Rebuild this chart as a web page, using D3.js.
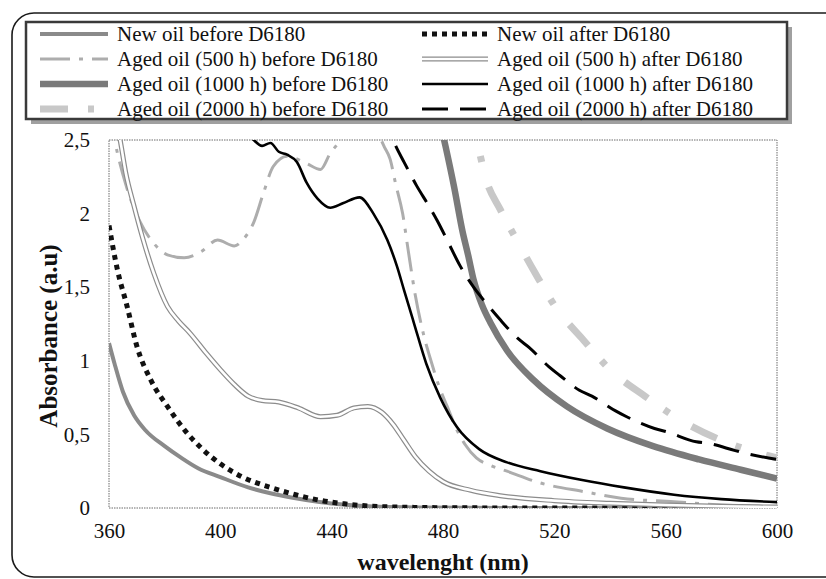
<!DOCTYPE html>
<html>
<head>
<meta charset="utf-8">
<script src="https://cdn.jsdelivr.net/npm/d3@7"></script>
<style>
  body { margin: 0; background: #fff; }
  svg { display: block; font-family: "Liberation Serif", "Times New Roman", serif; }
</style>
</head>
<body>
<script>
// wavelength (nm), absorbance (a.u)
var newOilBefore = [[360,1.12],[362,0.98],[365,0.79],[369,0.63],[373,0.53],[380,0.42],[386,0.34],[392,0.27],[400,0.21],[410,0.14],[418,0.10],[426,0.07],[435,0.043],[445,0.022],[455,0.01],[470,0.004],[490,0.001],[520,0],[600,0]];
var newOilAfter = [[360,1.92],[363,1.62],[366.5,1.37],[370,1.10],[375,0.87],[381,0.69],[388,0.51],[393,0.41],[400,0.30],[408,0.21],[418,0.14],[427,0.09],[435,0.055],[444,0.03],[452,0.015],[462,0.007],[475,0.003],[490,0.001],[520,0],[600,0]];
var aged500Before = [[360,2.7],[362,2.5],[366,2.2],[371,1.95],[376,1.8],[381,1.72],[387,1.70],[393,1.74],[399,1.82],[405,1.78],[408,1.82],[412,1.94],[415.5,2.14],[419,2.32],[424,2.39],[431,2.34],[436,2.30],[439.5,2.41],[442,2.47],[446,2.56],[452,2.6],[456,2.56],[459,2.45],[461,2.37],[463,2.2],[465.5,2.0],[467.5,1.75],[470,1.45],[473,1.18],[476,0.98],[478.5,0.83],[481.5,0.69],[485,0.53],[488,0.43],[492,0.34],[497,0.29],[503,0.25],[515,0.17],[531,0.11],[544,0.066],[563,0.043],[580,0.02],[600,0.007]];
var aged500After = [[360,2.8],[364,2.5],[366,2.28],[369,2.05],[372,1.84],[376,1.6],[381,1.37],[385,1.27],[389,1.19],[395,1.05],[400,0.94],[405,0.84],[410,0.76],[415,0.73],[421,0.72],[428,0.68],[436,0.62],[442,0.63],[448,0.68],[453,0.69],[458,0.65],[462,0.57],[466,0.46],[470,0.35],[475,0.25],[480,0.18],[490,0.12],[500,0.085],[520,0.05],[540,0.032],[560,0.02],[580,0.012],[600,0.006]];
var aged1000Before = [[478,2.7],[481,2.45],[484,2.18],[487,1.88],[489,1.72],[491,1.55],[494,1.38],[497,1.26],[503,1.07],[512.5,0.87],[524.5,0.69],[539,0.54],[555.5,0.42],[572,0.33],[587,0.26],[600,0.2]];
var aged1000After = [[405,2.7],[412,2.5],[415,2.46],[418,2.48],[421,2.42],[424,2.4],[427.5,2.35],[431,2.21],[435,2.1],[439.5,2.04],[444,2.07],[450,2.11],[455,2.0],[460,1.82],[463.5,1.64],[466,1.48],[469.5,1.26],[474,0.98],[479,0.75],[485,0.55],[493,0.4],[503,0.31],[515,0.25],[530,0.19],[545,0.14],[563,0.09],[580,0.06],[600,0.04]];
var aged2000Before = [[488,2.7],[492.5,2.46],[495.5,2.23],[500.5,2.03],[506.5,1.82],[513,1.6],[521,1.35],[530.5,1.14],[540,0.94],[552.5,0.76],[566,0.59],[580,0.46],[594,0.37],[600,0.34]];
var aged2000After = [[458,2.7],[463,2.46],[466,2.35],[470.5,2.19],[475,2.05],[478,1.95],[481.5,1.82],[486,1.65],[491,1.5],[496,1.38],[500.5,1.28],[507,1.15],[511,1.09],[518,0.96],[522,0.9],[529,0.8],[533.5,0.76],[542,0.66],[546,0.62],[556,0.54],[560,0.52],[571,0.45],[575,0.44],[585,0.39],[589,0.37],[600,0.33]];

var xTicks = [360, 400, 440, 480, 520, 560, 600];
var yTicks = [0, 0.5, 1, 1.5, 2, 2.5];

var seriesNames = ["New oil before D6180", "New oil after D6180",
  "Aged oil (500 h) before D6180", "Aged oil (500 h) after D6180",
  "Aged oil (1000 h) before D6180", "Aged oil (1000 h) after D6180",
  "Aged oil (2000 h) before D6180", "Aged oil (2000 h) after D6180"];
var seriesData = [newOilBefore, newOilAfter, aged500Before, aged500After,
  aged1000Before, aged1000After, aged2000Before, aged2000After];

// line looks, one per series (same order)
var looks = [
  { color: "#8a8a8a", width: 4 },
  { color: "#111", width: 5, dash: "5,5" },
  { color: "#adadad", width: 3, dash: "30,9,4,9" },
  { color: "#8c8c8c", width: 5, inner: 2.6 },
  { color: "#7a7a7a", width: 6.5 },
  { color: "#000", width: 2.6 },
  { color: "#c8c8c8", width: 7, dash: "28,20,6,26" },
  { color: "#000", width: 3, dash: "26,12" }
];

const w = 826, h = 579;
const plot = { left: 109, right: 777, top: 140, bottom: 508 };

var svg = d3.select("body").append("svg")
  .attr("width", w)
  .attr("height", h);

// outer rounded frame (runs off the right edge as in the scan)
svg.append("rect")
  .attr("x", 12).attr("y", 13)
  .attr("width", 840).attr("height", 564)
  .attr("rx", 22).attr("ry", 22)
  .attr("fill", "none")
  .attr("stroke", "#1a1a1a")
  .attr("stroke-width", 1.6);

var xScale = d3.scaleLinear().domain([360, 600]).range([plot.left, plot.right]);
var yScale = d3.scaleLinear().domain([0, 2.5]).range([plot.bottom, plot.top]);

svg.append("defs").append("clipPath")
  .attr("id", "clip")
  .append("rect")
  .attr("x", plot.left).attr("y", plot.top)
  .attr("width", plot.right - plot.left)
  .attr("height", plot.bottom - plot.top);

// plot border, thin dotted
svg.append("rect")
  .attr("x", plot.left).attr("y", plot.top)
  .attr("width", plot.right - plot.left)
  .attr("height", plot.bottom - plot.top)
  .attr("fill", "none")
  .attr("stroke", "#6a6a6a")
  .attr("stroke-width", 1)
  .attr("stroke-dasharray", "1.5,1");

var xAxis = d3.axisBottom(xScale).tickValues(xTicks).tickSize(0).tickPadding(15);
var yAxis = d3.axisLeft(yScale).tickValues(yTicks).tickSize(0).tickPadding(19)
  .tickFormat(function (d) { return String(d).replace(".", ","); });

var gx = svg.append("g")
  .attr("transform", "translate(0," + plot.bottom + ")")
  .call(xAxis);
var gy = svg.append("g")
  .attr("transform", "translate(" + plot.left + ",0)")
  .call(yAxis);
[gx, gy].forEach(function (g) {
  g.select(".domain").remove();
  g.selectAll("text")
    .attr("font-family", "Liberation Serif")
    .attr("font-size", 21)
    .attr("fill", "#111");
});

svg.append("text")
  .attr("x", (plot.left + plot.right) / 2)
  .attr("y", 562)
  .attr("dy", "0.35em")
  .attr("text-anchor", "middle")
  .attr("font-weight", "bold")
  .attr("font-size", 24)
  .attr("fill", "#111")
  .text("wavelenght (nm)");

svg.append("text")
  .attr("transform", "translate(48,336) rotate(-90)")
  .attr("dy", "0.35em")
  .attr("text-anchor", "middle")
  .attr("font-weight", "bold")
  .attr("font-size", 25)
  .attr("fill", "#111")
  .text("Absorbance (a.u)");

var line = d3.line()
  .x(function (d) { return xScale(d[0]); })
  .y(function (d) { return yScale(d[1]); })
  .curve(d3.curveMonotoneX);

var curves = svg.append("g").attr("clip-path", "url(#clip)");

seriesData.forEach(function (data, i) {
  var lk = looks[i];
  curves.append("path")
    .datum(data)
    .attr("d", line)
    .attr("fill", "none")
    .attr("stroke", lk.color)
    .attr("stroke-width", lk.width)
    .attr("stroke-dasharray", lk.dash || null)
    .attr("stroke-linejoin", "round");
  if (lk.inner) {
    curves.append("path")
      .datum(data)
      .attr("d", line)
      .attr("fill", "none")
      .attr("stroke", "#fff")
      .attr("stroke-width", lk.inner);
  }
});

// legend
var legendBox = { x: 26, y: 22, w: 761, h: 97 };
svg.append("rect")
  .attr("x", legendBox.x + 5).attr("y", legendBox.y + 5)
  .attr("width", legendBox.w).attr("height", legendBox.h)
  .attr("fill", "#a0a0a0");
svg.append("rect")
  .attr("x", legendBox.x).attr("y", legendBox.y)
  .attr("width", legendBox.w).attr("height", legendBox.h)
  .attr("fill", "#fff")
  .attr("stroke", "#3a3a3a")
  .attr("stroke-width", 2.5);

var cols = [{ x1: 40, x2: 108, tx: 117 }, { x1: 422, x2: 488, tx: 497 }];

seriesNames.forEach(function (name, i) {
  var c = cols[i % 2];
  var ly = 34 + Math.floor(i / 2) * 25;
  var lk = looks[i];
  var lg = svg.append("g");
  lg.append("line")
    .attr("x1", c.x1).attr("x2", c.x2)
    .attr("y1", ly).attr("y2", ly)
    .attr("stroke", lk.color)
    .attr("stroke-width", lk.width)
    .attr("stroke-dasharray", lk.dash || null);
  if (lk.inner) {
    lg.append("line")
      .attr("x1", c.x1).attr("x2", c.x2)
      .attr("y1", ly).attr("y2", ly)
      .attr("stroke", "#fff")
      .attr("stroke-width", lk.inner);
  }
  lg.append("text")
    .attr("x", c.tx)
    .attr("y", ly)
    .attr("dy", "0.35em")
    .attr("font-size", 21)
    .attr("fill", "#111")
    .text(name);
});
</script>
</body>
</html>
